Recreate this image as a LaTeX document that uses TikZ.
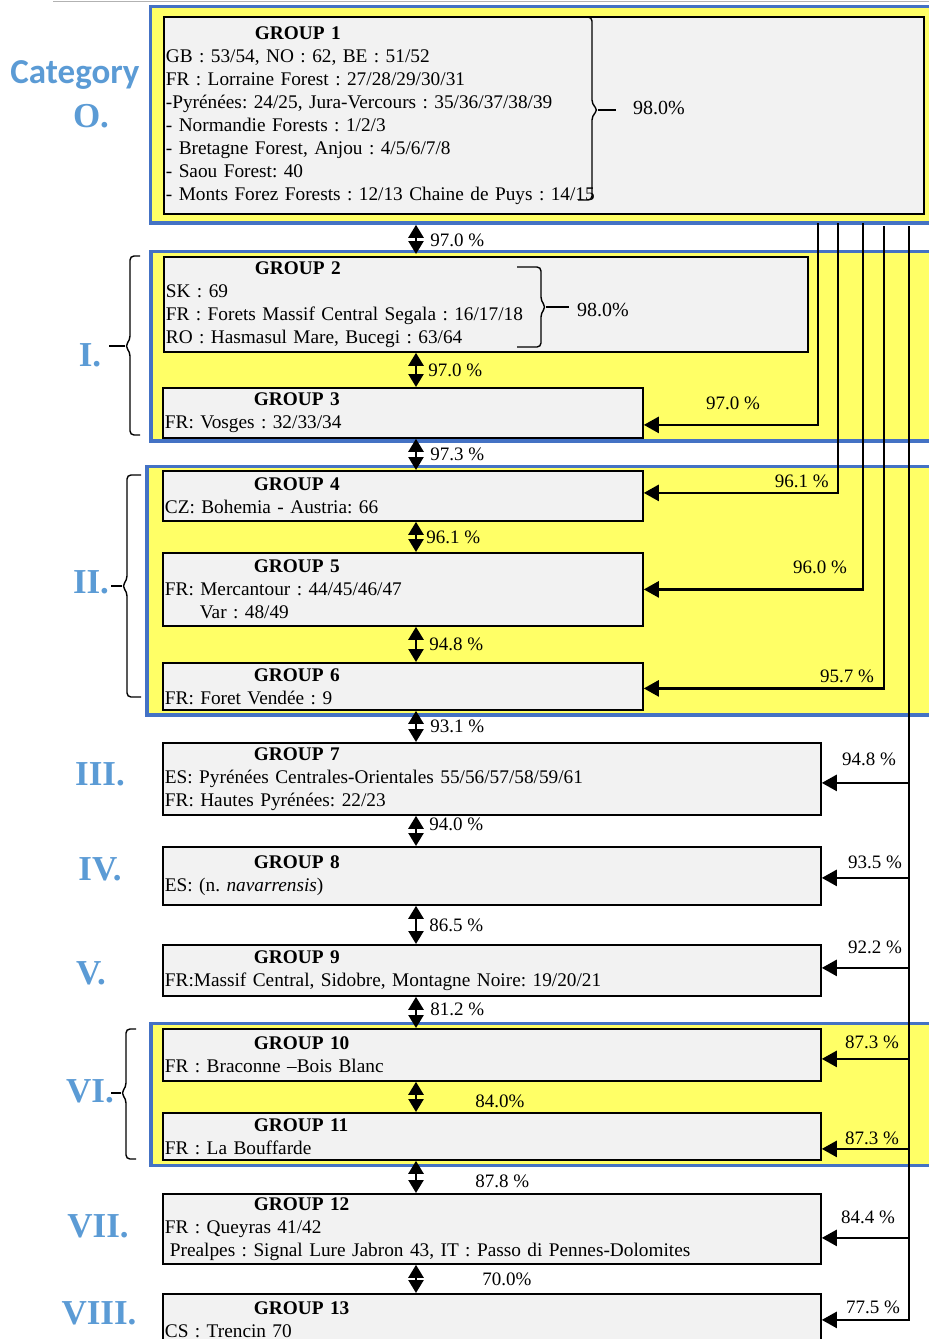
\documentclass[tikz,border=0pt]{standalone}
\usepackage{fontspec}
\setmainfont{Liberation Serif}
\newfontfamily\catfont{Carlito}
\usetikzlibrary{arrows.meta,positioning,calc}
\definecolor{bandyellow}{HTML}{FFFF66}
\definecolor{bandblue}{HTML}{4472C4}
\definecolor{boxgrey}{HTML}{F2F2F2}
\definecolor{catblue}{HTML}{5B9BD5}
\frenchspacing
\newcommand{\grouphead}[1]{\hspace*{89pt}\textbf{#1}}
\tikzset{
  band/.style={draw=bandblue,fill=bandyellow,line width=3.5pt},
  grp/.style={draw=black,fill=boxgrey,line width=1.8pt,anchor=north west,align=left,
    inner xsep=2pt,inner ysep=0pt,font=\fontsize{19.3}{23}\selectfont},
  cat/.style={text=catblue,font=\fontsize{35}{40}\selectfont\bfseries,inner sep=0pt},
  pct/.style={font=\fontsize{19}{22}\selectfont,inner sep=0pt,anchor=west},
  twoway/.style={{Triangle[length=13pt,width=15pt]}-{Triangle[length=13pt,width=15pt]},line width=2.5pt},
  link/.style={-{Triangle[length=15pt,width=16pt]},line width=2.5pt},
  brk/.style={line width=1.4pt,rounded corners=4pt}
}
\begin{document}
\begin{tikzpicture}[x=1pt,y=-1pt]
\useasboundingbox (0,0) rectangle (929,1339);
% bands
\draw[gray!60,line width=1pt] (53,1.5) -- (935,1.5);
\draw[band] (150.5,6.5) rectangle (945,223);
\draw[band] (151,251.5) rectangle (945,441);
\draw[band] (147,466.5) rectangle (945,715);
\draw[band] (151,1023.5) rectangle (945,1165.5);

% categories
\node[cat,font=\catfont\fontsize{35}{38}\selectfont\bfseries,anchor=base] (cat) at (75,83) {Category};
\node[cat] (c0) at (91,116) {O.};
\node[cat] (c1) at (90,355) {I.};
\node[cat] (c2) at (91,582) {II.};
\node[cat] (c3) at (100,774) {III.};
\node[cat] (c4) at (100,869) {IV.};
\node[cat] (c5) at (91,973) {V.};
\node[cat] (c6) at (90,1091) {VI.};
\node[cat] (c7) at (98,1226) {VII.};
\node[cat] (c8) at (99,1313) {VIII.};

\draw[brk] (140,256) -- (130,256) -- (130,340) -- (125,346) -- (130,352) -- (130,435) -- (140,435);
\draw[brk] (125,346) -- (109,346);
\draw[brk] (141,475) -- (127,475) -- (127,580) -- (122,586) -- (127,592) -- (127,697) -- (141,697);
\draw[brk] (122,586) -- (111,586);
\draw[brk] (136,1029) -- (126,1029) -- (126,1087) -- (121,1093) -- (126,1099) -- (126,1159) -- (136,1159);
\draw[brk] (121,1093) -- (111,1093);

% groups
\node[grp,text width=756pt,minimum height=197pt] (G1) at (163,16) {\grouphead{GROUP 1}\\GB : 53/54, NO : 62, BE : 51/52\\FR : Lorraine Forest : 27/28/29/30/31\\-Pyrénées: 24/25, Jura-Vercours : 35/36/37/38/39\\- Normandie Forests : 1/2/3\\- Bretagne Forest, Anjou : 4/5/6/7/8\\- Saou Forest: 40\\- Monts Forez Forests : 12/13 Chaine de Puys : 14/15};
\node[grp,text width=640pt,minimum height=95pt] (G2) at (163,256) {\grouphead{GROUP 2}\\SK : 69\\FR : Forets Massif Central Segala : 16/17/18\\RO : Hasmasul Mare, Bucegi : 63/64};
\node[grp,text width=476pt,minimum height=50pt] (G3) at (162,387) {\grouphead{GROUP 3}\\FR: Vosges : 32/33/34};
\node[grp,text width=476pt,minimum height=50pt] (G4) at (162,470) {\grouphead{GROUP 4}\\CZ: Bohemia - Austria: 66};
\node[grp,text width=476pt,minimum height=73pt] (G5) at (162,552) {\grouphead{GROUP 5}\\FR: Mercantour : 44/45/46/47\\\hspace*{35pt}Var : 48/49};
\node[grp,text width=476pt,minimum height=47pt] (G6) at (162,662) {\grouphead{GROUP 6}\\FR: Foret Vendée : 9};
\node[grp,text width=654pt,minimum height=72pt] (G7) at (162,742) {\grouphead{GROUP 7}\\ES: Pyrénées Centrales-Orientales 55/56/57/58/59/61\\FR: Hautes Pyrénées: 22/23};
\node[grp,text width=654pt,minimum height=58pt] (G8) at (162,846) {\grouphead{GROUP 8}\\ES: (n. \textit{navarrensis})};
\node[grp,text width=654pt,minimum height=51pt] (G9) at (162,944) {\grouphead{GROUP 9}\\FR:Massif Central, Sidobre, Montagne Noire: 19/20/21};
\node[grp,text width=654pt,minimum height=52pt] (G10) at (162,1028) {\grouphead{GROUP 10}\\FR : Braconne –Bois Blanc};
\node[grp,text width=654pt,minimum height=47pt] (G11) at (162,1112) {\grouphead{GROUP 11}\\FR : La Bouffarde};
\node[grp,text width=654pt,minimum height=70pt] (G12) at (162,1193) {\grouphead{GROUP 12}\\FR : Queyras 41/42\\\hspace*{5pt}Prealpes : Signal Lure Jabron 43, IT : Passo di Pennes-Dolomites};
\node[grp,text width=654pt,minimum height=52pt] (G13) at (162,1293) {\grouphead{GROUP 13}\\CS : Trencin 70};

% braces inside groups 1 and 2
\draw[brk] (578,17) -- (592,17) -- (592,104) -- (598,110) -- (592,116) -- (592,200) -- (578,200);
\draw[brk] (598,110) -- (616,110);
\node[pct,font=\fontsize{20}{22}\selectfont] (b1) at (633,108) {98.0\%};
\draw[brk] (517,267) -- (541,267) -- (541,301) -- (546,307) -- (541,313) -- (541,347) -- (517,347);
\draw[brk] (546,307) -- (569,307);
\node[pct,font=\fontsize{20}{22}\selectfont] (b2) at (577,310) {98.0\%};

% similarity between neighbours
\coordinate (ax) at (416,0);
\draw[twoway,shorten <=10pt,shorten >=2pt] (G1.south -| ax) -- node[pct,pos=.63,xshift=13pt]{97.0 \%} (G2.north -| ax);
\draw[twoway] (G2.south -| ax) -- node[pct,xshift=11pt]{97.0 \%} (G3.north -| ax);
\draw[twoway] (G3.south -| ax) -- node[pct,xshift=13pt]{97.3 \%} (G4.north -| ax);
\draw[twoway] (G4.south -| ax) -- node[pct,xshift=9pt]{96.1 \%} (G5.north -| ax);
\draw[twoway] (G5.south -| ax) -- node[pct,xshift=12pt]{94.8 \%} (G6.north -| ax);
\draw[twoway] (G6.south -| ax) -- node[pct,xshift=13pt]{93.1 \%} (G7.north -| ax);
\draw[twoway] (G7.south -| ax) -- node[pct,pos=.28,xshift=12pt]{94.0 \%} (G8.north -| ax);
\draw[twoway] (G8.south -| ax) -- node[pct,xshift=12pt]{86.5 \%} (G9.north -| ax);
\draw[twoway] (G9.south -| ax) -- node[pct,pos=.4,xshift=13pt]{81.2 \%} (G10.north -| ax);
\draw[twoway] (G10.south -| ax) -- node[pct,pos=.66,xshift=58pt]{84.0\%} (G11.north -| ax);
\draw[twoway] (G11.south -| ax) -- node[pct,pos=.65,xshift=58pt]{87.8 \%} (G12.north -| ax);
\draw[twoway] (G12.south -| ax) -- node[pct,xshift=65pt]{70.0\%} (G13.north -| ax);

% similarity with group 1
\coordinate (t1) at (818,223);
\coordinate (t2) at (838,223);
\coordinate (t3) at (863,223);
\coordinate (t4) at (884,226);
\coordinate (t5) at (909,226);
\draw[link] (t1) |- ([yshift=-12pt]G3.east);
\draw[link] (t2) |- ([yshift=3pt]G4.east);
\draw[link] (t3) |- (G5.east);
\draw[link] (t4) |- ([yshift=-2pt]G6.east);
\draw[link] (t5) |- (G13.east);
\coordinate (a7) at ([yshift=-4pt]G7.east);
\coordinate (a8) at ([yshift=-2pt]G8.east);
\coordinate (a9) at ([yshift=2.5pt]G9.east);
\coordinate (a10) at ([yshift=-4pt]G10.east);
\coordinate (a11) at ([yshift=-12.5pt]G11.east);
\coordinate (a12) at ([yshift=-9pt]G12.east);
\foreach \a in {a7,a8,a9,a10,a11,a12}
  \draw[link] (\a -| t5) -- (\a);

\node[pct] (p3) at (706,403) {97.0 \%};
\node[pct,anchor=east] (p4) at (829,481) {96.1 \%};
\node[pct] (p5) at (793,567) {96.0 \%};
\node[pct] (p6) at (820,676) {95.7 \%};
\node[pct] (p7) at (842,759) {94.8 \%};
\node[pct] (p8) at (848,862) {93.5 \%};
\node[pct] (p9) at (848,947) {92.2 \%};
\node[pct] (p10) at (845,1042) {87.3 \%};
\node[pct] (p11) at (845,1138) {87.3 \%};
\node[pct] (p12) at (841,1217) {84.4 \%};
\node[pct] (p13) at (846,1307) {77.5 \%};
\end{tikzpicture}
\end{document}
